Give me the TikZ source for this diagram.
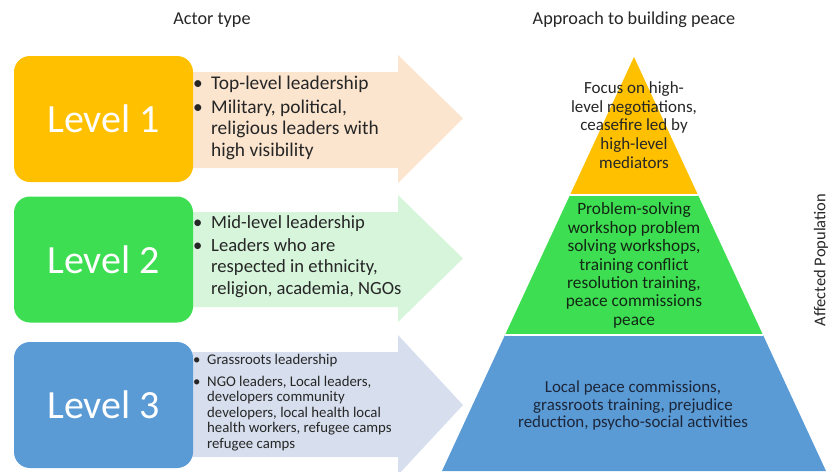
\documentclass[tikz,border=0pt]{standalone}
\usepackage{fontspec}
\setmainfont{Carlito}
\usepackage{array}
\definecolor{cyel}{RGB}{255,192,0}
\definecolor{cgrn}{RGB}{62,222,82}
\definecolor{cblu}{RGB}{91,155,213}
\definecolor{apea}{RGB}{252,229,207}
\definecolor{agrn}{RGB}{214,245,219}
\definecolor{ablu}{RGB}{215,223,238}
\definecolor{txt}{RGB}{38,38,38}
\definecolor{navy}{RGB}{28,38,58}
\definecolor{dgrn}{RGB}{18,40,20}
\begin{document}
\begin{tikzpicture}[x=1pt,y=-1pt,
  lvlbox/.style={rounded corners=16pt, minimum width=179pt, minimum height=126pt, text=white, font=\fontsize{40}{46}\selectfont, inner sep=0pt},
  title/.style={text=txt, font=\fontsize{18.2}{21}\selectfont, inner sep=0pt},
  bullets/.style={text=txt, inner sep=0pt, anchor=base west},
  pyrtext/.style={align=center, inner sep=0pt},
  sep/.style={draw=white, line width=1.6pt}]
\useasboundingbox (0,0) rectangle (829,471);
% titles
\node[title] (t1) at (212,20) {Actor type};
\node[title] (t2) at (634,20) {Approach to building peace};
% arrows
\fill[apea] (180,72) -- (398,72) -- (398,55) -- (463,118.5) -- (398,183) -- (398,168) -- (180,168) -- cycle;
\fill[agrn] (180,212) -- (398,212) -- (398,195) -- (463,258.5) -- (398,322) -- (398,307) -- (180,307) -- cycle;
\fill[ablu] (180,352) -- (398,352) -- (398,335) -- (463,405) -- (398,475) -- (398,457) -- (180,457) -- cycle;
% level boxes
\node[lvlbox, fill=cyel] (l1) at (103.5,119) {Level 1};
\node[lvlbox, fill=cgrn] (l2) at (103.5,259.5) {Level 2};
\node[lvlbox, fill=cblu] (l3) at (103.5,405) {Level 3};
% bullet texts
\node[bullets, font=\fontsize{19.4}{21.5}\selectfont] (b1) at (193,89)
 {\begin{tabular}[t]{@{}p{18pt}@{}l@{}}\textbullet & Top-level leadership\\[2.5pt]
  \textbullet & Military, political,\\ & religious leaders with\\ & high visibility\end{tabular}};
\node[bullets, font=\fontsize{18.6}{21.5}\selectfont] (b2) at (193,228)
 {\begin{tabular}[t]{@{}p{18pt}@{}l@{}}\textbullet & Mid-level leadership\\[1.5pt]
  \textbullet & Leaders who are\\ & respected in ethnicity,\\ & religion, academia, NGOs\end{tabular}};
\node[bullets, font=\fontsize{14.8}{15.5}\selectfont] (b3) at (193,364.5)
 {\begin{tabular}[t]{@{}p{14pt}@{}l@{}}\textbullet & Grassroots leadership\\[6pt]
  \textbullet & NGO leaders, Local leaders,\\ & developers community\\ & developers, local health local\\ & health workers, refugee camps\\ & refugee camps\end{tabular}};
% pyramid
\coordinate (apex) at (634,57);
\coordinate (yl) at (570,195); \coordinate (yr) at (698,195);
\coordinate (gl) at (505,335); \coordinate (gr) at (763,335);
\coordinate (bl) at (442,471); \coordinate (br) at (826,471);
\fill[cyel] (apex) -- (yr) -- (yl) -- cycle;
\fill[cgrn] (yl) -- (yr) -- (gr) -- (gl) -- cycle;
\fill[cblu] (gl) -- (gr) -- (br) -- (bl) -- cycle;
\draw[sep] (yl) -- (yr);
\draw[sep] (gl) -- (gr);
\node[pyrtext, text=txt, font=\fontsize{17}{18.7}\selectfont] (p1) at (634,125)
 {Focus on high-\\level negotiations,\\ceasefire led by\\high-level\\mediators};
\node[pyrtext, text=dgrn, font=\fontsize{17.3}{18.4}\selectfont] (p2) at (634,265.5)
 {Problem-solving\\workshop problem\\solving workshops,\\training conflict\\resolution training,\\peace commissions\\peace};
\node[pyrtext, text=navy, font=\fontsize{16.9}{17.8}\selectfont] (p3) at (633,405.5)
 {Local peace commissions,\\grassroots training, prejudice\\reduction, psycho-social activities};
% side label
\node[rotate=90, text=txt, font=\fontsize{16.5}{19}\selectfont, inner sep=0pt] (ap) at (821,260) {Affected Population};
\end{tikzpicture}
\end{document}
